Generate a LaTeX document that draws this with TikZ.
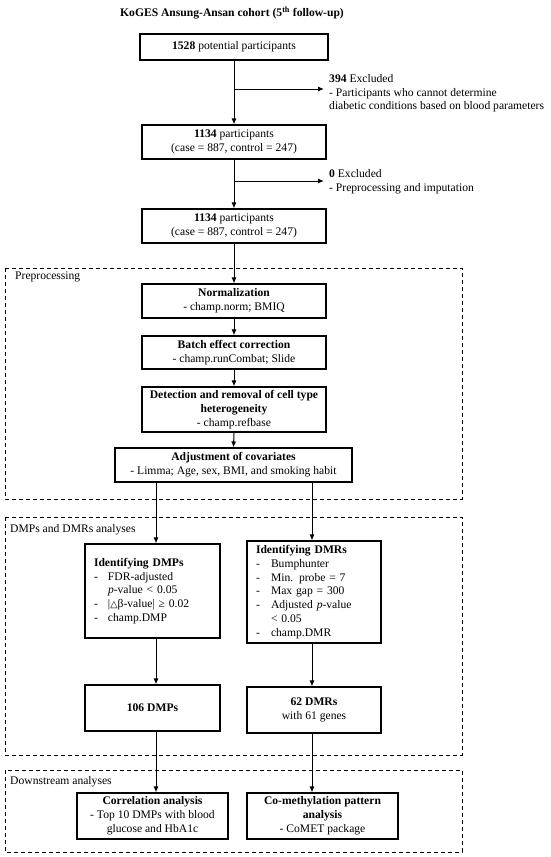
\documentclass[tikz,border=0pt]{standalone}
\usepackage{fontspec}
\setmainfont{Liberation Serif}
\newfontfamily\symfont{DejaVu Sans}
\usetikzlibrary{arrows.meta}
\begin{document}
\begin{tikzpicture}[x=1pt,y=-1pt,
  mainfont/.style={font=\fontsize{11.6}{13.8}\selectfont},
  box/.style={draw, line width=1.1pt, align=center, inner sep=0pt, mainfont},
  lbox/.style={draw, line width=1.1pt, align=left, inner xsep=9pt, inner ysep=0pt, mainfont},
  arr/.style={line width=1pt, -{Latex[length=6pt,width=5pt]}},
  grp/.style={line width=0.8pt, dash pattern=on 4pt off 3pt},
  txt/.style={inner sep=0pt, align=left, mainfont}]
\useasboundingbox (0,0) rectangle (550,857);

% title
\node[inner sep=0pt, mainfont] (title) at (232,13) {\textbf{KoGES Ansung-Ansan cohort (5\textsuperscript{th} follow-up)}};

% group frames
\draw[grp] (5,268) rectangle (462,499);
\draw[grp] (5,517) rectangle (462,755);
\draw[grp] (5,770) rectangle (462,852);
\node[txt, anchor=west] (gl1) at (15,277) {Preprocessing};
\node[txt, anchor=west] (gl2) at (10,530) {DMPs and DMRs analyses};
\node[txt, anchor=west] (gl3) at (10,782) {Downstream analyses};

% top flow
\node[box, minimum width=188pt, minimum height=26pt] (b1) at (234,47) {\textbf{1528} potential participants};
\node[box, minimum width=184pt, minimum height=34pt] (b2) at (234,142) {\textbf{1134} participants\\(case = 887, control = 247)};
\node[box, minimum width=184pt, minimum height=34pt] (b3) at (234,226) {\textbf{1134} participants\\(case = 887, control = 247)};

\node[txt, anchor=north west] (ex1) at (329,74) {\textbf{394} Excluded\\- Participants who cannot determine\\diabetic conditions based on blood parameters};
\node[txt, anchor=north west] (ex2) at (329,169) {\textbf{0} Excluded\\- Preprocessing and imputation};

% preprocessing
\node[box, minimum width=184pt, minimum height=34pt] (norm) at (234,301) {\textbf{Normalization}\\- champ.norm; BMIQ};
\node[box, minimum width=184pt, minimum height=33pt] (batch) at (234,352.5) {\textbf{Batch effect correction}\\- champ.runCombat; Slide};
\node[box, minimum width=184pt, minimum height=45pt] (det) at (234,409.5) {\textbf{Detection and removal of cell type}\\\textbf{heterogeneity}\\- champ.refbase};
\node[box, minimum width=237pt, minimum height=34pt] (adj) at (233.5,465) {\textbf{Adjustment of covariates}\\- Limma; Age, sex, BMI, and smoking habit};

% DMPs / DMRs
\node[lbox, text width=117pt, minimum width=135pt, minimum height=94pt] (dmp) at (152.5,591) {\textbf{Identifying DMPs}\\
\makebox[14pt][l]{-}FDR-adjusted\\
\hspace*{14pt}\textit{p}-value < 0.05\\
\makebox[14pt][l]{-}|{\symfont\fontsize{9.5}{13.8}\selectfont △}β-value| ≥ 0.02\\
\makebox[14pt][l]{-}champ.DMP};
\node[lbox, text width=116pt, minimum width=134pt, minimum height=102pt] (dmr) at (314,592) {\textbf{Identifying DMRs}\\
\makebox[15pt][l]{-}Bumphunter\\
\makebox[15pt][l]{-}Min. probe = 7\\
\makebox[15pt][l]{-}Max gap = 300\\
\makebox[15pt][l]{-}Adjusted \textit{p}-value\\
\hspace*{15pt}< 0.05\\
\makebox[15pt][l]{-}champ.DMR};

\node[box, minimum width=135pt, minimum height=46pt] (d106) at (152.5,708) {\textbf{106 DMPs}};
\node[box, minimum width=134pt, minimum height=46pt] (d62) at (314,710) {\textbf{62 DMRs}\\with 61 genes};

% downstream
\node[box, minimum width=151pt, minimum height=46pt] (corr) at (152.5,816) {\textbf{Correlation analysis}\\- Top 10 DMPs with blood\\glucose and HbA1c};
\node[box, minimum width=151pt, minimum height=46pt] (comet) at (322.5,816) {\textbf{Co-methylation pattern}\\\textbf{analysis}\\- CoMET package};

% connectors
\coordinate (colL) at (156,0);
\coordinate (colR) at (312,0);
\coordinate (t1) at (324,89);
\coordinate (t2) at (324,181);
\draw[arr] (b1.south) -- (b2.north);
\draw[arr] (b1.south |- t1) -- (t1);
\draw[arr] (b2.south) -- (b3.north);
\draw[arr] (b2.south |- t2) -- (t2);
\draw[arr] (b3.south) -- (norm.north);
\draw[arr] (norm.south) -- (batch.north);
\draw[arr] (batch.south) -- (det.north);
\draw[arr] (det.south) -- (adj.north);
\draw[arr] (adj.south -| colL) -- (dmp.north -| colL);
\draw[arr] (adj.south -| colR) -- (dmr.north -| colR);
\draw[arr] (dmp.south -| colL) -- (d106.north -| colL);
\draw[arr] (dmr.south -| colR) -- (d62.north -| colR);
\draw[arr] (d106.south -| colL) -- (corr.north -| colL);
\draw[arr] (d62.south -| colR) -- (comet.north -| colR);
\end{tikzpicture}
\end{document}
